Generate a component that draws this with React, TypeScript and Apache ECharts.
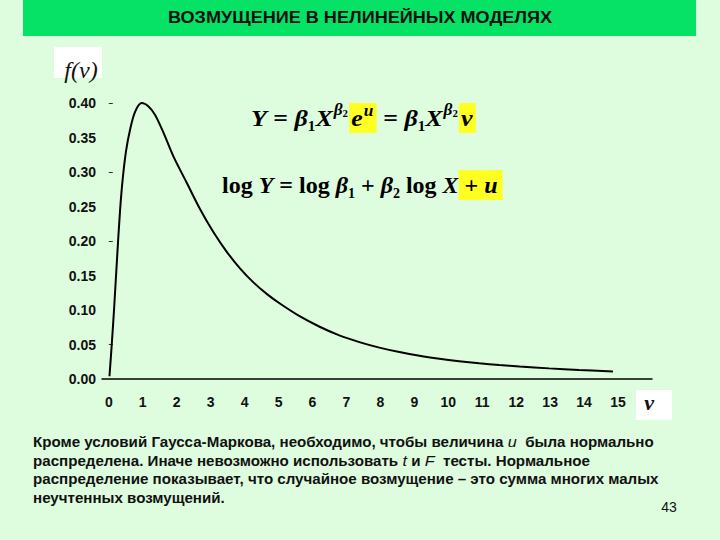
import React, { useEffect, useRef } from "react";
import * as echarts from "echarts";

// ---- data ----
const vValues = [
  0.02, 0.09, 0.16, 0.24, 0.33, 0.41, 0.51, 0.63, 0.78, 0.97, 1.17, 1.36, 1.61,
  1.9, 2.3, 2.69, 3.08, 3.48, 3.87, 4.26, 4.66, 5.05, 5.62, 6.21, 6.79, 7.38,
  7.97, 8.56, 9.15, 9.74, 10.32, 10.91, 11.5, 12.1, 12.97, 13.85, 14.85,
];
const density = [
  0.004, 0.052, 0.105, 0.172, 0.243, 0.29, 0.331, 0.362, 0.388, 0.4, 0.395,
  0.383, 0.357, 0.323, 0.284, 0.246, 0.213, 0.184, 0.16, 0.14, 0.123, 0.109,
  0.091, 0.0757, 0.0632, 0.0535, 0.0455, 0.039, 0.0336, 0.0293, 0.0258,
  0.0228, 0.0203, 0.0181, 0.0154, 0.0131, 0.0109,
];
const xTickLabels = [0, 1, 2, 3, 4, 5, 6, 7, 8, 9, 10, 11, 12, 13, 14, 15];
const yTickMarks = [0.05, 0.2, 0.3, 0.4];

const titleText = "ВОЗМУЩЕНИЕ В НЕЛИНЕЙНЫХ МОДЕЛЯХ";
const bodyLines = [
  "Кроме условий Гаусса-Маркова, необходимо, чтобы величина {i|u}  была нормально",
  "распределена. Иначе невозможно использовать {i|t} и {i|F}  тесты. Нормальное",
  "распределение показывает, что случайное возмущение – это сумма многих малых",
  "неучтенных возмущений.",
];
const pageNumber = "43";
const formula1 =
  "{mi|Y}{m| = }{mi|β}{s|1}{mi|X}{p|β}{p2|2}{ey|e}{uy|u}{m| = }{mi|β}{s|1}{mi|X}{p|β}{p2|2}{vy|v}";
const formula2 =
  "{m|log }{mi|Y}{m| = log }{mi|β}{s|1}{m| + }{mi|β}{s|2}{m| log }{mi|X}{py| + }{pyi|u}";

const SANS = '"Liberation Sans", Arial, sans-serif';
const SERIF = '"Liberation Serif", "Times New Roman", serif';
const YELLOW = "#FFFF22";
const INK = "#111";

const richFormula: Record<string, any> = {
  m: { fontFamily: SERIF, fontWeight: "bold", fontSize: 24, color: INK },
  mi: { fontFamily: SERIF, fontWeight: "bold", fontStyle: "italic", fontSize: 24, color: INK },
  s: { fontFamily: SERIF, fontWeight: "bold", fontSize: 14, color: INK, padding: [16, 0, 0, 0] },
  p: { fontFamily: SERIF, fontWeight: "bold", fontStyle: "italic", fontSize: 16, color: INK, padding: [0, 0, 16, 1] },
  p2: { fontFamily: SERIF, fontWeight: "bold", fontSize: 10, color: INK, padding: [0, 1, 8, 0] },
  ey: { fontFamily: SERIF, fontWeight: "bold", fontStyle: "italic", fontSize: 24, color: INK, backgroundColor: YELLOW, padding: [3, 0, 3, 2] },
  uy: { fontFamily: SERIF, fontWeight: "bold", fontStyle: "italic", fontSize: 16, color: INK, backgroundColor: YELLOW, padding: [0, 3, 14, 1] },
  vy: { fontFamily: SERIF, fontWeight: "bold", fontStyle: "italic", fontSize: 24, color: INK, backgroundColor: YELLOW, padding: [3, 3, 3, 2] },
  py: { fontFamily: SERIF, fontWeight: "bold", fontSize: 24, color: INK, backgroundColor: YELLOW, padding: [3, 0, 3, 0] },
  pyi: { fontFamily: SERIF, fontWeight: "bold", fontStyle: "italic", fontSize: 24, color: INK, backgroundColor: YELLOW, padding: [3, 5, 3, 0] },
};

export default function App() {
  const ref = useRef<HTMLDivElement>(null);
  useEffect(() => {
    if (!ref.current) return;
    const chart = echarts.init(ref.current, null, { renderer: "svg" });
    const seriesData = vValues.map((v, i) => [v, density[i]]);
    chart.setOption({
      animation: false,
      backgroundColor: "#DEFCDE",
      grid: { left: 102, top: 103, width: 550, height: 276 },
      xAxis: {
        type: "value",
        min: -0.2,
        max: 16,
        axisLine: { show: true, onZero: false, lineStyle: { color: "#000", width: 1.5 } },
        axisTick: { show: false },
        splitLine: { show: false },
        axisLabel: {
          customValues: xTickLabels,
          color: INK,
          fontFamily: SANS,
          fontWeight: "bold",
          fontSize: 14,
          margin: 16,
        },
      },
      yAxis: {
        type: "value",
        min: 0,
        max: 0.4,
        interval: 0.05,
        axisLine: { show: false },
        axisTick: {
          show: true,
          inside: true,
          length: 4,
          customValues: yTickMarks,
          lineStyle: { color: "#333", width: 1 },
        },
        splitLine: { show: false },
        axisLabel: {
          formatter: (v: number) => v.toFixed(2),
          color: INK,
          fontFamily: SANS,
          fontWeight: "bold",
          fontSize: 14,
          margin: 6,
        },
      },
      series: [
        {
          type: "line",
          data: seriesData,
          showSymbol: false,
          smooth: 0.35,
          lineStyle: { color: "#000", width: 2 },
          silent: true,
        },
      ],
      graphic: [
        { type: "rect", shape: { x: 23, y: 0, width: 673, height: 36 }, style: { fill: "#06E265" } },
        {
          type: "text",
          x: 360,
          y: 18,
          scaleX: 1.13,
          style: {
            text: titleText,
            align: "center",
            verticalAlign: "middle",
            fontFamily: SANS,
            fontWeight: "bold",
            fontSize: 16,
            fill: INK,
          },
        },
        { type: "rect", shape: { x: 54, y: 47, width: 48, height: 31 }, style: { fill: "#FFFFFF" } },
        {
          type: "text",
          x: 81,
          y: 70,
          style: {
            text: "f(v)",
            align: "center",
            verticalAlign: "middle",
            fontFamily: SERIF,
            fontStyle: "italic",
            fontSize: 24,
            fill: INK,
          },
        },
        { type: "rect", shape: { x: 636, y: 390, width: 36, height: 30 }, style: { fill: "#FFFFFF" } },
        {
          type: "text",
          x: 649,
          y: 402,
          style: {
            text: "v",
            align: "center",
            verticalAlign: "middle",
            fontFamily: SERIF,
            fontStyle: "italic",
            fontWeight: "bold",
            fontSize: 22,
            fill: INK,
          },
        },
        {
          type: "text",
          x: 251,
          y: 118,
          scaleX: 1.08,
          style: {
            text: formula1,
            align: "left",
            verticalAlign: "middle",
            lineHeight: 30,
            rich: richFormula,
          },
        },
        {
          type: "text",
          x: 222,
          y: 185,
          style: {
            text: formula2,
            align: "left",
            verticalAlign: "middle",
            lineHeight: 30,
            rich: richFormula,
          },
        },
        ...bodyLines.map((line, i) => ({
          type: "text",
          x: 33,
          y: 442 + i * 18.8,
          scaleX: 1.08,
          style: {
            text: line,
            align: "left",
            verticalAlign: "middle",
            fontFamily: SANS,
            fontWeight: "bold",
            fontSize: 14,
            fill: INK,
            rich: {
              i: { fontFamily: SANS, fontStyle: "italic", fontWeight: "normal", fontSize: 15, color: INK },
            },
          },
        })),
        {
          type: "text",
          x: 669,
          y: 507,
          style: {
            text: pageNumber,
            align: "center",
            verticalAlign: "middle",
            fontFamily: SANS,
            fontSize: 14,
            fill: INK,
          },
        },
      ],
    });
    return () => chart.dispose();
  }, []);
  return (
    <div
      ref={ref}
      style={{ position: "fixed", left: 0, top: 0, width: 720, height: 540 }}
    />
  );
}
